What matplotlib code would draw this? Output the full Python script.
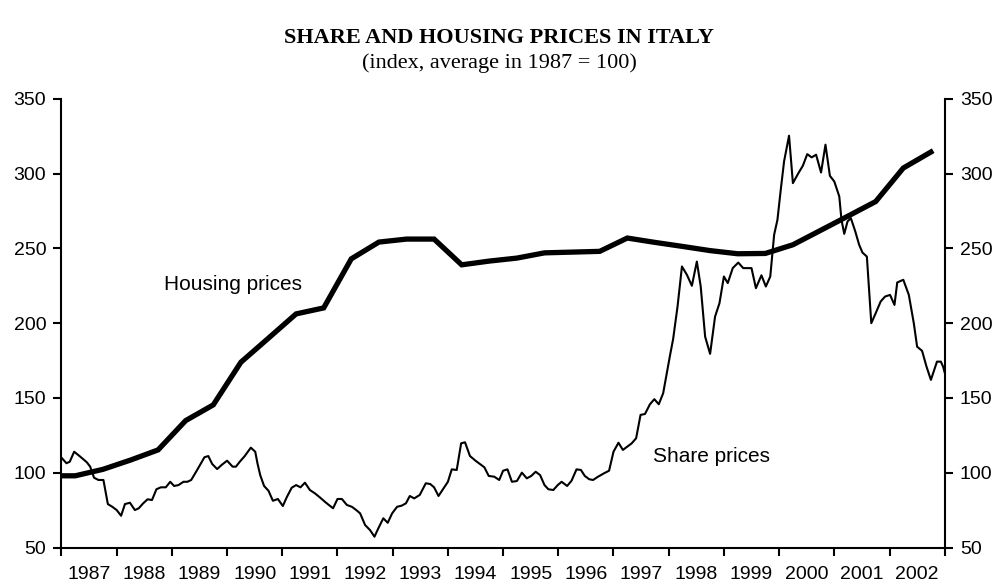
import matplotlib.pyplot as plt
import numpy as np

# housing prices, semi-annual (index, 1987 = 100)
house_t = [1987.0, 1987.25, 1987.75, 1988.25, 1988.75, 1989.25, 1989.75, 1990.25, 1990.75,
           1991.25, 1991.75, 1992.25, 1992.75, 1993.25, 1993.75, 1994.25, 1994.75, 1995.25,
           1995.75, 1996.25, 1996.75, 1997.25, 1997.75, 1998.25, 1998.75, 1999.25, 1999.75,
           2000.25, 2000.75, 2001.25, 2001.75, 2002.25, 2002.75]
house_v = [98.0, 98.0, 102.3, 108.5, 115.3, 134.9, 145.4, 173.9, 190.0,
           206.2, 210.2, 243.0, 254.2, 256.2, 256.2, 239.0, 241.5, 243.5,
           247.0, 247.5, 248.0, 256.9, 254.0, 251.3, 248.5, 246.4, 246.6,
           252.4, 262.0, 271.6, 281.3, 303.7, 314.4]

# share prices, roughly monthly
share_t = [1987.01, 1987.09, 1987.15, 1987.23, 1987.34, 1987.46, 1987.52, 1987.59, 1987.67, 1987.76,
           1987.84, 1987.92, 1988.00, 1988.08, 1988.15, 1988.24, 1988.33, 1988.40, 1988.48, 1988.56,
           1988.64, 1988.72, 1988.80, 1988.89, 1988.97, 1989.04, 1989.12, 1989.21, 1989.28, 1989.35,
           1989.45, 1989.59, 1989.66, 1989.73, 1989.82, 1989.90, 1990.00, 1990.10, 1990.16, 1990.23,
           1990.32, 1990.43, 1990.51, 1990.55, 1990.60, 1990.67, 1990.75, 1990.83, 1990.92, 1991.01,
           1991.08, 1991.17, 1991.25, 1991.33, 1991.41, 1991.50, 1991.59, 1991.68, 1991.77, 1991.85,
           1991.92, 1992.00, 1992.08, 1992.17, 1992.26, 1992.34, 1992.41, 1992.50, 1992.59, 1992.67,
           1992.74, 1992.83, 1992.91, 1992.99, 1993.08, 1993.16, 1993.24, 1993.31, 1993.39, 1993.49,
           1993.60, 1993.68, 1993.75, 1993.83, 1993.92, 1994.00, 1994.07, 1994.16, 1994.24, 1994.31,
           1994.40, 1994.50, 1994.58, 1994.66, 1994.74, 1994.84, 1994.93, 1995.00, 1995.08, 1995.16,
           1995.25, 1995.34, 1995.43, 1995.51, 1995.59, 1995.67, 1995.75, 1995.82, 1995.91, 1995.99,
           1996.06, 1996.16, 1996.24, 1996.33, 1996.41, 1996.48, 1996.56, 1996.63, 1996.72, 1996.83,
           1996.92, 1997.00, 1997.09, 1997.17, 1997.25, 1997.33, 1997.41, 1997.49, 1997.57, 1997.66,
           1997.74, 1997.82, 1997.90, 1997.96, 1998.02, 1998.08, 1998.16, 1998.24, 1998.33, 1998.42,
           1998.51, 1998.58, 1998.66, 1998.75, 1998.84, 1998.92, 1999.00, 1999.07, 1999.16, 1999.26,
           1999.35, 1999.50, 1999.58, 1999.68, 1999.76, 1999.84, 1999.91, 1999.97, 2000.03, 2000.09,
           2000.18, 2000.25, 2000.35, 2000.43, 2000.51, 2000.59, 2000.67, 2000.76, 2000.84, 2000.92,
           2001.00, 2001.09, 2001.13, 2001.18, 2001.24, 2001.30, 2001.38, 2001.45, 2001.51, 2001.59,
           2001.67, 2001.75, 2001.84, 2001.92, 2002.01, 2002.09, 2002.14, 2002.25, 2002.35, 2002.44,
           2002.50, 2002.59, 2002.67, 2002.75, 2002.86, 2002.93, 2002.97, 2003.00]
share_v = [109.7, 106.4, 107.4, 114.1, 110.8, 107.0, 104.1, 96.7, 95.2, 95.2,
           79.1, 77.3, 75.1, 71.3, 79.1, 80.0, 75.1, 76.3, 79.6, 82.3,
           81.8, 89.0, 90.3, 90.3, 94.0, 91.2, 91.8, 94.0, 94.0, 95.2,
           101.4, 110.4, 111.2, 105.9, 102.5, 105.2, 108.1, 104.1, 104.1, 107.4,
           111.2, 116.8, 114.1, 106.4, 98.5, 91.2, 88.0, 81.3, 82.5, 77.8,
           83.6, 90.0, 91.8, 90.3, 93.4, 88.5, 86.3, 83.6, 80.7, 78.3,
           76.3, 82.5, 82.5, 78.5, 77.3, 75.1, 72.9, 65.1, 61.7, 57.3,
           62.9, 69.6, 66.6, 72.9, 77.3, 78.0, 79.6, 84.5, 82.9, 85.2,
           93.0, 92.5, 90.3, 84.5, 89.6, 94.0, 102.3, 101.9, 119.7, 120.4,
           111.2, 108.1, 105.9, 103.7, 97.9, 97.4, 95.2, 101.4, 102.3, 94.0,
           94.5, 100.1, 96.3, 97.9, 100.7, 98.5, 91.8, 89.0, 88.5, 91.8,
           94.0, 91.2, 94.7, 102.3, 101.9, 97.9, 95.7, 95.2, 97.4, 99.7,
           101.4, 114.1, 120.1, 115.3, 117.5, 119.7, 123.1, 138.7, 139.3, 145.8,
           149.2, 145.8, 153.2, 165.4, 177.7, 189.3, 211.1, 237.9, 232.3, 225.0,
           241.2, 224.5, 191.0, 179.5, 204.4, 213.4, 231.2, 226.8, 236.8, 240.5,
           236.8, 236.8, 223.4, 232.0, 224.5, 231.2, 259.1, 269.1, 289.2, 308.1,
           325.3, 293.6, 300.3, 305.2, 313.0, 310.8, 312.6, 300.7, 319.3, 298.5,
           294.7, 284.7, 269.1, 259.7, 268.0, 270.2, 261.3, 252.4, 247.2, 244.5,
           200.0, 206.7, 214.5, 217.8, 218.9, 212.2, 227.2, 229.0, 218.9, 200.0,
           184.3, 181.5, 171.0, 162.1, 174.3, 174.3, 171.0, 167.0]

years = list(range(1987, 2003))
y_ticks = [50, 100, 150, 200, 250, 300, 350]

plt.rcParams['font.family'] = ['Liberation Sans', 'DejaVu Sans']

fig = plt.figure(figsize=(9.98, 5.86), dpi=100)
ax = fig.add_axes([0.0616, 0.0655, 0.885, 0.766])

ax.plot(house_t, house_v, color='black', lw=3.8, solid_joinstyle='miter', zorder=3)
ax.plot(share_t, share_v, color='black', lw=1.5, zorder=2)

ax.set_xlim(1987, 2003)
ax.set_ylim(50, 350)

# year boundaries as ticks, labels in the middle of each year
ax.set_xticks(np.arange(1987, 2004))
ax.set_xticklabels([])
ax.set_xticks([y + 0.5 for y in years], minor=True)
ax.set_xticklabels([str(y) for y in years], minor=True, fontsize=14)
ax.tick_params(axis='x', which='major', direction='out', length=6, width=1.5)
ax.tick_params(axis='x', which='minor', length=0, pad=13)

ax.set_yticks(y_ticks)
ax.tick_params(axis='y', which='major', direction='out', length=6, width=1.5, pad=5,
               labelsize=14, left=True, right=True, labelleft=True, labelright=True)

for side in ['left', 'right', 'bottom']:
    ax.spines[side].set_linewidth(1.5)
ax.spines['top'].set_visible(False)

ax.text(1990.11, 226, "Housing prices", fontsize=15, ha='center', va='center')
ax.text(1998.78, 111, "Share prices", fontsize=15, ha='center', va='center')

fig.text(0.5, 0.935, "SHARE AND HOUSING PRICES IN ITALY", ha='center', va='center',
         family='Liberation Serif', fontweight='bold', fontsize=16)
fig.text(0.5, 0.892, "(index, average in 1987 = 100)", ha='center', va='center',
         family='Liberation Serif', fontsize=16)

plt.savefig("out.png", dpi=100)
